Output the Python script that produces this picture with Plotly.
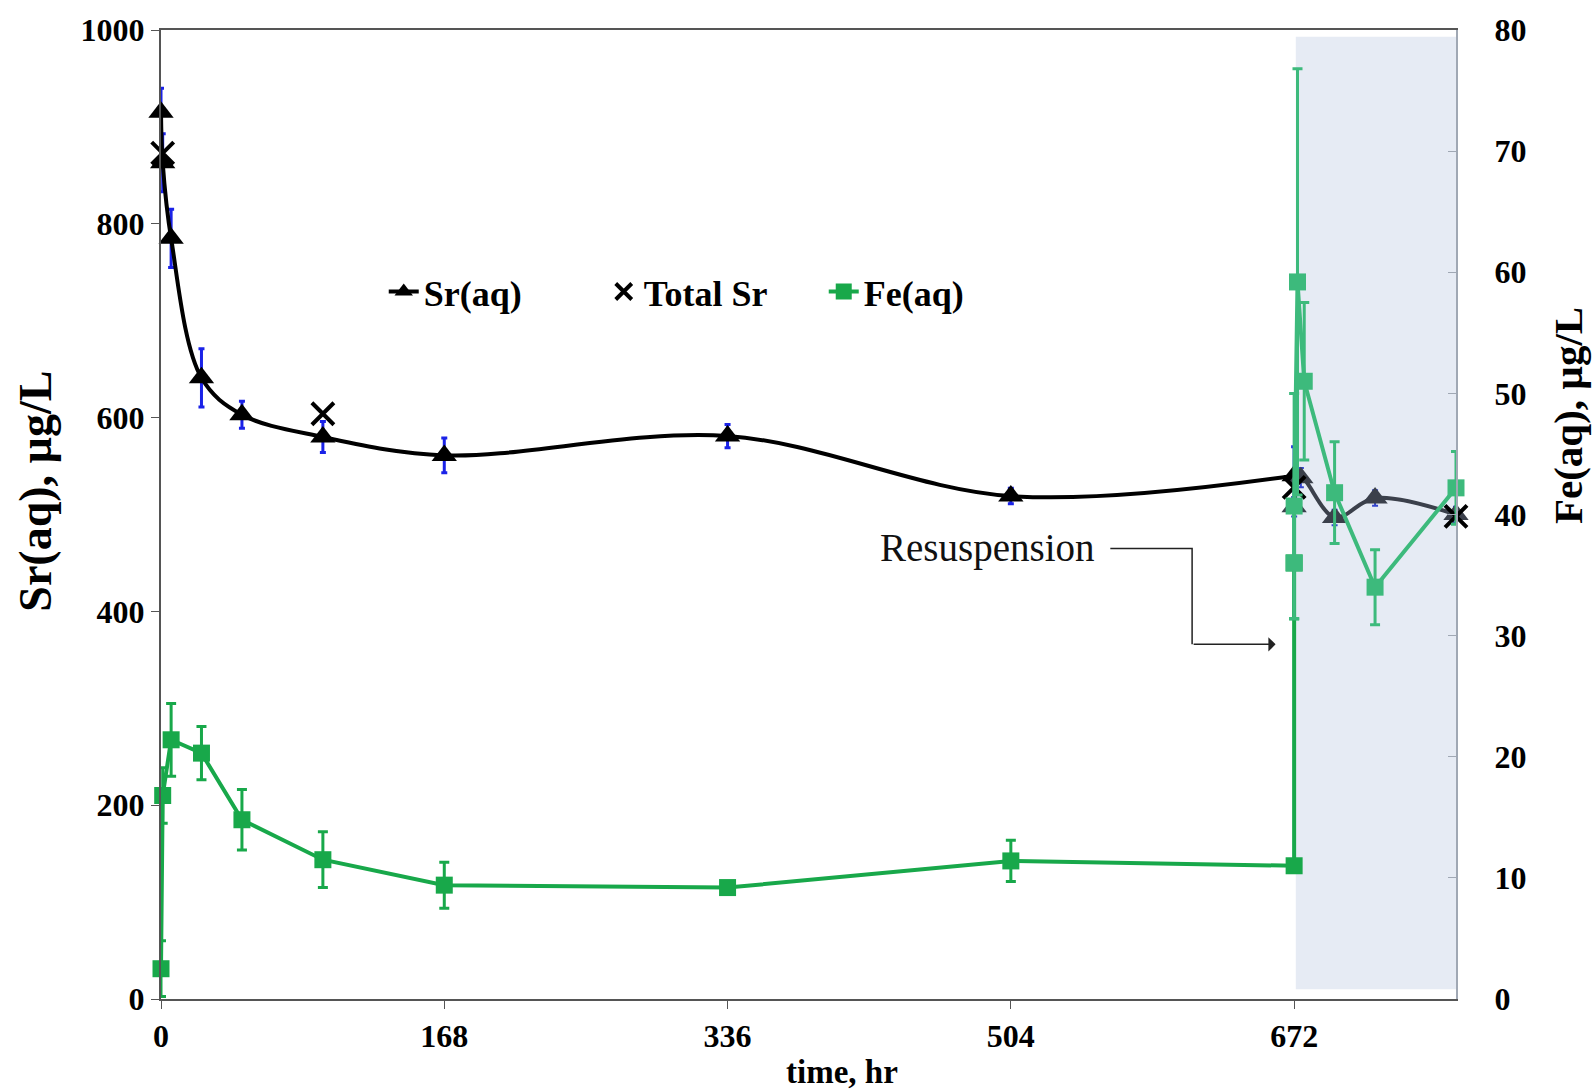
import plotly.graph_objects as go

# ---- data ----
t_sr = [0, 1, 6, 24, 48, 96, 168, 336, 504, 672]
sr = [915, 863, 785, 641, 603, 580, 561, 581, 519, 540]
sr_err = [25, 30, 30, 30, 14, 16, 18, 12, 8, 30]

t_sr_res = [672, 676, 696, 720, 768]
sr_res = [508, 538, 497, 517, 500]
sr_res_err = [10, 10, 8, 8, 8]

t_tot = [1, 96, 672, 768]
tot_sr = [873, 604, 528, 498]

t_fe = [0, 1, 6, 24, 48, 96, 168, 336, 504, 672, 672]
fe = [2.5, 16.8, 21.4, 20.3, 14.8, 11.5, 9.4, 9.2, 11.4, 11.0, 36.0]
fe_err = [2.3, 2.3, 3.0, 2.2, 2.5, 2.3, 1.9, 0.5, 1.7, 0.5, 4.6]

t_fe_res = [672, 672, 674, 678, 696, 720, 768]
fe_res = [36.0, 40.7, 59.2, 51.0, 41.8, 34.0, 42.2]
fe_res_err = [4.6, 9.3, 17.6, 6.5, 4.2, 3.1, 3.0]

x_ticks = [0, 168, 336, 504, 672]

FONT = "Liberation Serif"
BLACK = "#000000"
GREY = "#3b404b"
GREEN = "#18a84a"
LGREEN = "#3dba7c"
BLUE = "#1a22e8"

fig = go.Figure()

fig.add_trace(go.Scatter(
    x=t_sr, y=sr, name="Sr(aq)", mode="lines+markers",
    line=dict(color=BLACK, width=4, shape="spline", smoothing=1.0),
    marker=dict(symbol="triangle-up", size=22, color=BLACK),
    error_y=dict(type="data", array=sr_err, color=BLUE, thickness=3, width=3),
    cliponaxis=False,
))
fig.add_trace(go.Scatter(
    x=t_sr_res, y=sr_res, name="Sr(aq) resuspension", mode="lines+markers",
    line=dict(color=GREY, width=4, shape="spline", smoothing=1.0),
    marker=dict(symbol="triangle-up", size=22, color=GREY),
    error_y=dict(type="data", array=sr_res_err, color="#3344cc", thickness=2, width=3),
    showlegend=False, cliponaxis=False,
))
fig.add_trace(go.Scatter(
    x=t_tot, y=tot_sr, name="Total Sr", mode="markers",
    marker=dict(symbol="x-thin-open", size=22, color=BLACK, line=dict(color=BLACK, width=4)),
    cliponaxis=False,
))
fig.add_trace(go.Scatter(
    x=t_fe, y=fe, name="Fe(aq)", mode="lines+markers", yaxis="y2",
    line=dict(color=GREEN, width=4),
    marker=dict(symbol="square", size=17, color=GREEN),
    error_y=dict(type="data", array=fe_err, color=GREEN, thickness=3, width=5),
    cliponaxis=False,
))
fig.add_trace(go.Scatter(
    x=t_fe_res, y=fe_res, name="Fe(aq) resuspension", mode="lines+markers", yaxis="y2",
    line=dict(color=LGREEN, width=4),
    marker=dict(symbol="square", size=17, color=LGREEN),
    error_y=dict(type="data", array=fe_res_err, color=LGREEN, thickness=3, width=5),
    showlegend=False, cliponaxis=False,
))

# shaded resuspension region
fig.add_shape(type="rect", xref="x", yref="y", x0=673, x1=768, y0=10, y1=993,
              fillcolor="#e6ebf4", line=dict(width=0), layer="below")

# annotation elbow line and arrow
fig.add_shape(type="path", xref="x", yref="y",
              path="M 563,465 L 611.5,465 L 611.5,366",
              line=dict(color="#222222", width=1.5))
fig.add_annotation(x=661, y=366, ax=611.5, ay=366, xref="x", yref="y",
                   axref="x", ayref="y", text="", showarrow=True,
                   arrowhead=1, arrowsize=1.6, arrowwidth=1.5, arrowcolor="#222222")
fig.add_annotation(x=555, y=465, xref="x", yref="y", text="Resuspension",
                   showarrow=False, xanchor="right", yanchor="middle",
                   font=dict(family=FONT, size=39, color="#111111"))

# axis titles
fig.add_annotation(x=-0.097, y=0.524, xref="paper", yref="paper", text="Sr(aq), µg/L",
                   textangle=-90, showarrow=False, xanchor="center", yanchor="middle",
                   font=dict(family=FONT, size=46, color=BLACK, weight="bold"))
fig.add_annotation(x=1.086, y=0.602, xref="paper", yref="paper", text="Fe(aq), µg/L",
                   textangle=-90, showarrow=False, xanchor="center", yanchor="middle",
                   font=dict(family=FONT, size=41, color=BLACK, weight="bold"))
fig.add_annotation(x=0.526, y=-0.075, xref="paper", yref="paper", text="time, hr",
                   showarrow=False, xanchor="center", yanchor="middle",
                   font=dict(family=FONT, size=33, color=BLACK, weight="bold"))

tickfont = dict(family=FONT, size=32, color=BLACK, weight="bold")

fig.update_layout(
    width=1594, height=1091,
    margin=dict(l=161, r=138, t=24, b=92),
    paper_bgcolor="white", plot_bgcolor="white",
    showlegend=True,
    legend=dict(orientation="h", x=0.172, y=0.73, xanchor="left", yanchor="middle",
                font=dict(family=FONT, size=36, color=BLACK, weight="bold"),
                bgcolor="rgba(0,0,0,0)", itemwidth=30, entrywidth=175,
                tracegroupgap=0),
    xaxis=dict(range=[0, 768], tickvals=x_ticks, ticks="outside", ticklen=8,
               tickcolor="#555555", showline=True, linecolor="#555555", linewidth=2,
               mirror=True, showgrid=False, zeroline=False, tickfont=tickfont),
    yaxis=dict(range=[0, 1000], dtick=200, ticks="outside", ticklen=8,
               tickcolor="#555555", showline=True, linecolor="#555555", linewidth=2,
               showgrid=False, zeroline=False, tickfont=tickfont),
    yaxis2=dict(range=[0, 80], dtick=10, overlaying="y", side="right",
                ticks="inside", ticklen=8, tickcolor="#a0a8b4", showline=True,
                linecolor="#a0a8b4", linewidth=2, showgrid=False, zeroline=False,
                ticklabelstandoff=30, tickfont=tickfont),
)

fig.write_html("out.html")
